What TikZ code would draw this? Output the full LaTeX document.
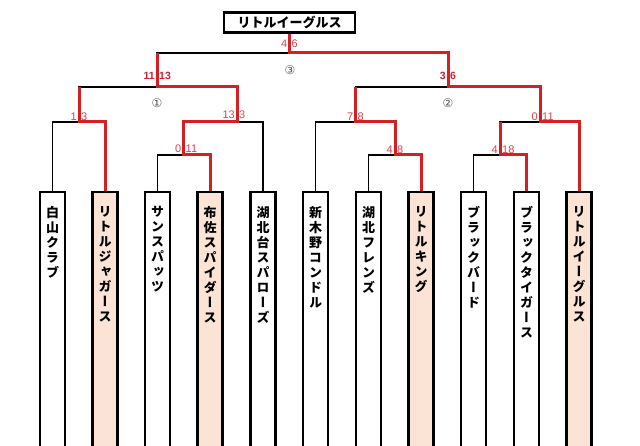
\documentclass[tikz,border=0pt]{standalone}
\usepackage{fontspec}
\setmainfont{Liberation Sans}
\newfontfamily\cjk{Noto Sans CJK JP}[RawFeature=+vert]
\newfontfamily\cjkh{Noto Sans CJK JP}
\newfontfamily\dv{DejaVu Sans}
\usetikzlibrary{backgrounds}
\definecolor{winred}{HTML}{D42020}
\definecolor{scorered}{HTML}{DC4050}
\definecolor{boldred}{HTML}{D02030}
\definecolor{peach}{HTML}{FBE3D5}
\definecolor{circgray}{HTML}{555555}
\tikzset{
  team/.style={draw, line width=2.4pt, minimum width=25pt, minimum height=262pt, anchor=north, inner sep=0pt, fill=white},
  winteam/.style={team, fill=peach},
  vname/.style={anchor=north, inner sep=0pt, align=center, font=\cjk\bfseries\fontsize{13}{15}\selectfont},
  champ/.style={draw, line width=2.4pt, minimum width=131pt, minimum height=20pt, inner sep=0pt, fill=white, font=\cjkh\bfseries\fontsize{13}{15}\selectfont},
  bline/.style={line width=1.4pt, black},
  rline/.style={line width=3pt, winred, line join=miter},
  scl/.style={anchor=south east, inner sep=0.5pt, font=\fontsize{11}{13}\selectfont, text=scorered},
  scr/.style={anchor=south west, inner sep=0.5pt, font=\fontsize{11}{13}\selectfont, text=scorered},
  bscl/.style={scl, font=\bfseries\fontsize{10.5}{12}\selectfont, text=boldred},
  bscr/.style={scr, font=\bfseries\fontsize{10.5}{12}\selectfont, text=boldred},
  circ/.style={inner sep=0pt, font=\dv\fontsize{12}{14}\selectfont, text=circgray}
}
\begin{document}
\begin{tikzpicture}[x=1pt,y=-1pt]
\useasboundingbox (0,0) rectangle (640,446);
% teams
\node[team]    (t1)  at (52.5,191) {};
\node[winteam] (t2)  at (105,191) {};
\node[team]    (t3)  at (157.5,191) {};
\node[winteam] (t4)  at (210,191) {};
\node[team]    (t5)  at (263,191) {};
\node[team]    (t6)  at (315.5,191) {};
\node[team]    (t7)  at (368.5,191) {};
\node[winteam] (t8)  at (421,191) {};
\node[team]    (t9)  at (473.5,191) {};
\node[team]    (t10) at (526.5,191) {};
\node[winteam] (t11) at (579,191) {};
\node[vname] (n1)  at (52.5,206) {白\\山\\ク\\ラ\\ブ};
\node[vname] (n2)  at (105,206) {リ\\ト\\ル\\ジ\\ャ\\ガ\\ー\\ス};
\node[vname] (n3)  at (157.5,206) {サ\\ン\\ス\\パ\\ッ\\ツ};
\node[vname] (n4)  at (210,206) {布\\佐\\ス\\パ\\イ\\ダ\\ー\\ス};
\node[vname] (n5)  at (263,206) {湖\\北\\台\\ス\\パ\\ロ\\ー\\ズ};
\node[vname] (n6)  at (315.5,206) {新\\木\\野\\コ\\ン\\ド\\ル};
\node[vname] (n7)  at (368.5,206) {湖\\北\\フ\\レ\\ン\\ズ};
\node[vname] (n8)  at (421,206) {リ\\ト\\ル\\キ\\ン\\グ};
\node[vname] (n9)  at (473.5,206) {ブ\\ラ\\ッ\\ク\\バ\\ー\\ド};
\node[vname] (n10) at (526.5,206) {ブ\\ラ\\ッ\\ク\\タ\\イ\\ガ\\ー\\ス};
\node[vname] (n11) at (579,206) {リ\\ト\\ル\\イ\\ー\\グ\\ル\\ス};
% champion
\node[champ] (champ) at (289.5,22.5) {リトルイーグルス};
% junctions
\coordinate (mA) at (79,122);
\coordinate (mC) at (183.5,155);
\coordinate (mB) at (237,122);
\coordinate (m1) at (157,87);
\coordinate (fin) at (289.5,53);
\coordinate (mF) at (395,155);
\coordinate (mD) at (355.5,122);
\coordinate (mG) at (500,155);
\coordinate (mE) at (540,122);
\coordinate (m2) at (448,87);
\begin{scope}[on background layer]
% black bracket
\draw[bline] (t1.north) |- (mA) -| (t2.north);
\draw[bline] (mA) |- (m1) -| (mB);
\draw[bline] (t3.north) |- (mC) -| (t4.north);
\draw[bline] (mC) |- (mB) -| (t5.north);
\draw[bline] (m1) |- (fin) -| (m2);
\draw[bline] (champ.south) -- (fin);
\draw[bline] (t6.north) |- (mD) -| (mF);
\draw[bline] (t7.north) |- (mF) -| (t8.north);
\draw[bline] (mD) |- (m2) -| (mE);
\draw[bline] (mG) |- (mE) -| (t11.north);
\draw[bline] (t9.north) |- (mG) -| (t10.north);
% winner paths
\draw[rline] (t2.north) |- (mA) -- (mA |- m1);
\draw[rline] (t4.north) |- (mC) |- (mB) |- (m1) -- (m1 |- fin);
\draw[rline] (t8.north) |- (mF) |- (mD) -- (mD |- m2);
\draw[rline] (t10.north) |- (mG) -- (mG |- mE);
\draw[rline] (t11.north) |- (mE) |- (m2) |- (fin) -- (champ.south);
\end{scope}
% scores
\node[scl] (sA1) at ([xshift=-1.5pt,yshift=0.5pt]mA) {1};
\node[scr] (sA2) at ([xshift=1.5pt,yshift=0.5pt]mA) {3};
\node[scl] (sC1) at ([xshift=-1.5pt,yshift=1.5pt]mC) {0};
\node[scr] (sC2) at ([xshift=1.5pt,yshift=1.5pt]mC) {11};
\node[scl] (sB1) at ([xshift=-1.5pt,yshift=2.5pt]mB) {13};
\node[scr] (sB2) at ([xshift=1.5pt,yshift=2.5pt]mB) {3};
\node[bscl] (s11) at ([xshift=-1.5pt,yshift=7pt]m1) {11};
\node[bscr] (s12) at ([xshift=1.5pt,yshift=7pt]m1) {13};
\node[scl] (sF1) at ([xshift=-1.5pt,yshift=5pt]fin) {4};
\node[scr] (sF2) at ([xshift=1.5pt,yshift=5pt]fin) {6};
\node[scl] (sD1) at ([xshift=-1.5pt,yshift=0.5pt]mD) {7};
\node[scr] (sD2) at ([xshift=1.5pt,yshift=0.5pt]mD) {8};
\node[scl] (sFF1) at ([xshift=-1.5pt,yshift=0.5pt]mF) {4};
\node[scr] (sFF2) at ([xshift=1.5pt,yshift=0.5pt]mF) {8};
\node[scl] (sE1) at ([xshift=-1.5pt,yshift=0.5pt]mE) {0};
\node[scr] (sE2) at ([xshift=1.5pt,yshift=0.5pt]mE) {11};
\node[scl] (sG1) at ([xshift=-1.5pt,yshift=0.5pt]mG) {4};
\node[scr] (sG2) at ([xshift=1.5pt,yshift=0.5pt]mG) {18};
\node[bscl] (s21) at ([xshift=-1.5pt,yshift=7pt]m2) {3};
\node[bscr] (s22) at ([xshift=1.5pt,yshift=7pt]m2) {6};
% round marks
\node[circ] (c1) at (157,103) {①};
\node[circ] (c2) at (448,103) {②};
\node[circ] (c3) at (290,70) {③};
\end{tikzpicture}
\end{document}
